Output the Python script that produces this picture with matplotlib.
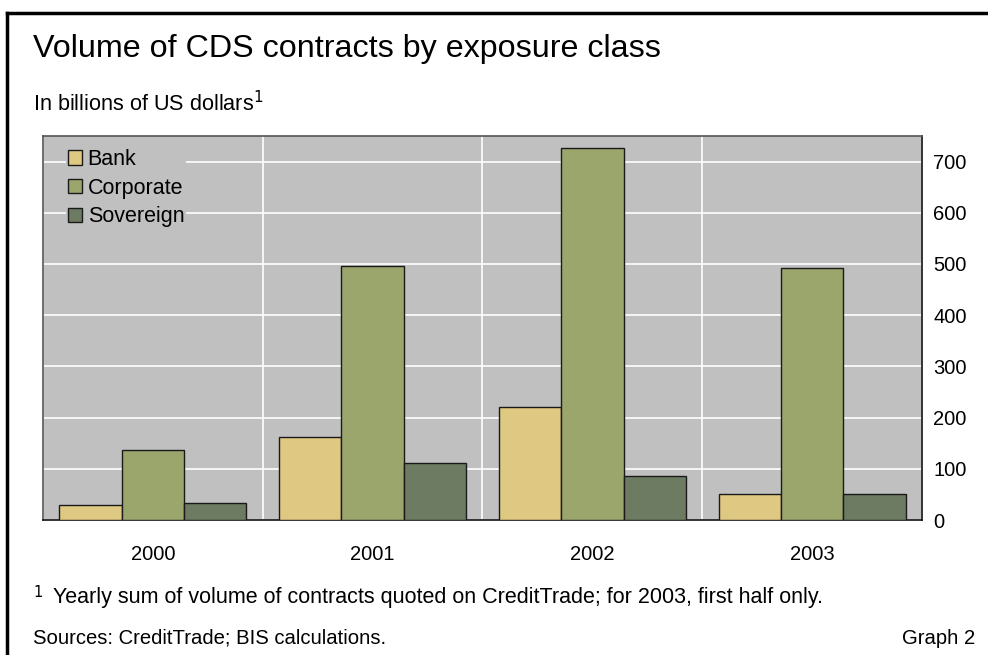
import matplotlib
matplotlib.use('Agg')
import matplotlib.pyplot as plt
from matplotlib.lines import Line2D
from matplotlib.ticker import MultipleLocator
import numpy as np

plt.rcParams['font.family'] = ['Liberation Sans', 'DejaVu Sans']

years = ['2000', '2001', '2002', '2003']
bank = [30, 163, 221, 50]
corporate = [136, 496, 727, 492]
sovereign = [34, 112, 86, 50]

series_names = ['Bank', 'Corporate', 'Sovereign']
colors = ['#DFC882', '#9BA66D', '#6C7B62']

fig = plt.figure(figsize=(9.88, 6.55), dpi=100)
ax = fig.add_axes([0.0435, 0.2061, 0.8897, 0.5863])
ax.set_facecolor('#C0C0C0')

x = np.arange(len(years))
w = 0.284
for i, (vals, name, c) in enumerate(zip([bank, corporate, sovereign], series_names, colors)):
    ax.bar(x + (i - 1) * w, vals, w, color=c, edgecolor='#1a1a1a', linewidth=1.0,
           label=name, zorder=3)

ax.set_xlim(-0.5, 3.5)
ax.set_ylim(0, 750)
ax.set_xticks(x)
ax.set_xticklabels(years)
ax.xaxis.set_minor_locator(MultipleLocator(1, offset=0.5))
ax.yaxis.set_major_locator(MultipleLocator(100))
ax.yaxis.tick_right()
ax.tick_params(axis='x', which='both', length=0, pad=18, labelsize=14.5)
ax.tick_params(axis='y', length=0, pad=8, labelsize=14.5)

ax.grid(axis='y', which='major', color='white', linewidth=1.2, zorder=1)
ax.grid(axis='x', which='minor', color='white', linewidth=1.2, zorder=1)
ax.set_axisbelow(True)

for s in ['top', 'left']:
    ax.spines[s].set_color('#555555')
    ax.spines[s].set_linewidth(1.2)
for s in ['bottom', 'right']:
    ax.spines[s].set_color('#111111')
    ax.spines[s].set_linewidth(1.2)

leg = ax.legend(loc='upper left', bbox_to_anchor=(0.014, 1.0), fontsize=15.5,
                frameon=True, fancybox=False, handlelength=0.65, handleheight=0.65,
                handletextpad=0.25, labelspacing=0.36, borderpad=0.1)
leg.get_frame().set_facecolor('#C0C0C0')
leg.get_frame().set_edgecolor('none')
leg.get_frame().set_alpha(1)

# frame lines around the graph
fig.add_artist(Line2D([7/988, 1], [1 - 13/655, 1 - 13/655], color='black', linewidth=2.5))
fig.add_artist(Line2D([7/988, 7/988], [0, 1 - 13/655], color='black', linewidth=2.5))

fig.text(33/988, 1 - 57/655, 'Volume of CDS contracts by exposure class', fontsize=23.2,
         va='baseline', ha='left')
fig.text(33/988, 1 - 111/655, 'In billions of US dollars$^{1}$', fontsize=15.6,
         va='baseline', ha='left')
fig.text(33/988, 1 - 603/655, '$^{1}$', fontsize=15.2, va='baseline', ha='left')
fig.text(53/988, 1 - 603/655, 'Yearly sum of volume of contracts quoted on CreditTrade; for 2003, first half only.',
         fontsize=15.5, va='baseline', ha='left')
fig.text(33/988, 1 - 644/655, 'Sources: CreditTrade; BIS calculations.', fontsize=14.6,
         va='baseline', ha='left')
fig.text(975/988, 1 - 644/655, 'Graph 2', fontsize=14.6, va='baseline', ha='right')

fig.savefig('out.png', dpi=100)
